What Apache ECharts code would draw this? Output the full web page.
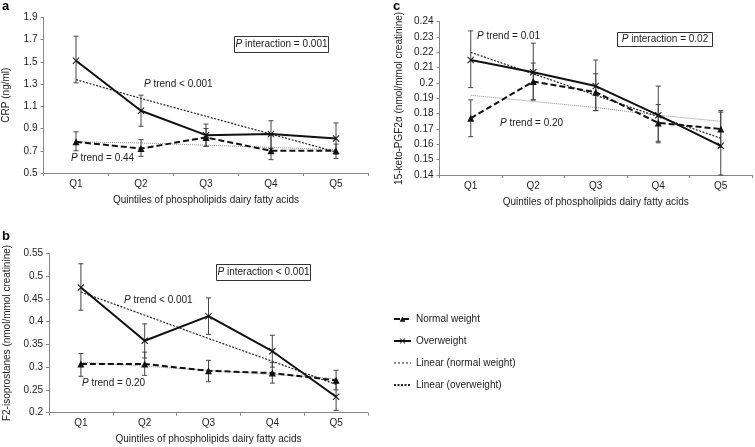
<!DOCTYPE html>
<html>
<head>
<meta charset="utf-8">
<script src="https://cdn.jsdelivr.net/npm/echarts@6/dist/echarts.min.js"></script>
<style>html,body{margin:0;padding:0;background:#fff}#c{width:755px;height:447px}</style>
</head>
<body>
<div id="c"></div>
<script>
const categories = ['Q1','Q2','Q3','Q4','Q5'];
const seriesNames = ['Normal weight','Overweight','Linear (normal weight)','Linear (overweight)'];

// Panel a: CRP
const crpNormal      = [0.78, 0.72, 0.82, 0.70, 0.70];
const crpNormalLow   = [0.70, 0.65, 0.74, 0.62, 0.63];
const crpNormalHigh  = [0.87, 0.80, 0.90, 0.84, 0.76];
const crpOver        = [1.51, 1.06, 0.84, 0.85, 0.81];
const crpOverLow     = [1.31, 0.92, 0.74, 0.72, 0.67];
const crpOverHigh    = [1.73, 1.20, 0.94, 0.97, 0.95];
const crpLinNormal   = [0.78, 0.77, 0.75, 0.73, 0.71];
const crpLinOver     = [1.34, 1.17, 1.01, 0.85, 0.69];

// Panel b: F2-isoprostanes
const f2Normal     = [0.307, 0.307, 0.292, 0.287, 0.271];
const f2NormalLow  = [0.280, 0.282, 0.268, 0.265, 0.250];
const f2NormalHigh = [0.330, 0.333, 0.315, 0.310, 0.293];
const f2Over       = [0.475, 0.358, 0.412, 0.335, 0.235];
const f2OverLow    = [0.425, 0.320, 0.372, 0.300, 0.205];
const f2OverHigh   = [0.527, 0.395, 0.452, 0.370, 0.265];
const f2LinNormal  = [0.311, 0.302, 0.293, 0.284, 0.275];
const f2LinOver    = [0.465, 0.414, 0.363, 0.313, 0.262];

// Panel c: 15-keto-PGF2alpha
const ketoNormal     = [0.177, 0.201, 0.194, 0.174, 0.170];
const ketoNormalLow  = [0.165, 0.189, 0.182, 0.162, 0.158];
const ketoNormalHigh = [0.189, 0.213, 0.206, 0.186, 0.182];
const ketoOver       = [0.215, 0.207, 0.198, 0.179, 0.159];
const ketoOverLow    = [0.197, 0.189, 0.182, 0.161, 0.140];
const ketoOverHigh   = [0.234, 0.226, 0.215, 0.198, 0.181];
const ketoLinNormal  = [0.192, 0.188, 0.184, 0.179, 0.175];
const ketoLinOver    = [0.220, 0.206, 0.192, 0.178, 0.164];

const FONT = '"Liberation Sans", Arial, sans-serif';
const TXT = '#222';
const X_SYMBOL = 'path://M0,1 L1,0 L5,4 L9,0 L10,1 L6,5 L10,9 L9,10 L5,6 L1,10 L0,9 L4,5 Z';

function errData(lo, hi){ return lo.map((v,i)=>[i, v, hi[i]]); }

function errorRender(params, api){
  const x = api.value(0);
  const p1 = api.coord([x, api.value(2)]);
  const p2 = api.coord([x, api.value(1)]);
  const w = 2.5;
  const st = {stroke:'#444', lineWidth:1};
  return {type:'group', children:[
    {type:'line', shape:{x1:p1[0], y1:p1[1], x2:p2[0], y2:p2[1]}, style:st},
    {type:'line', shape:{x1:p1[0]-w, y1:p1[1], x2:p1[0]+w, y2:p1[1]}, style:st},
    {type:'line', shape:{x1:p2[0]-w, y1:p2[1], x2:p2[0]+w, y2:p2[1]}, style:st}
  ]};
}

function fmt(v){ return String(+v.toFixed(3)); }

function makeX(idx){
  return {
    type:'category', gridIndex:idx, data:categories, boundaryGap:true,
    name:'Quintiles of phospholipids dairy fatty acids', nameLocation:'middle', nameGap:22,
    nameTextStyle:{fontFamily:FONT, fontSize:10, color:TXT},
    axisLine:{lineStyle:{color:'#888', width:1}},
    axisTick:{show:true, length:3, lineStyle:{color:'#888'}},
    axisLabel:{fontFamily:FONT, fontSize:10, color:TXT, margin:6},
    splitLine:{show:false}
  };
}
function makeY(idx, min, max, interval, name, gap){
  return {
    type:'value', gridIndex:idx, min:min, max:max, interval:interval,
    name:name, nameLocation:'middle', nameGap:gap, nameRotate:90,
    nameTextStyle:{fontFamily:FONT, fontSize:10, color:TXT},
    axisLine:{show:true, lineStyle:{color:'#888', width:1}},
    axisTick:{show:true, length:3, lineStyle:{color:'#888'}},
    axisLabel:{fontFamily:FONT, fontSize:10, color:TXT, margin:6, formatter:fmt},
    splitLine:{show:false}
  };
}

function panelSeries(idx, normal, nLo, nHi, over, oLo, oHi, linN, linO){
  return [
    {name:seriesNames[2], type:'line', xAxisIndex:idx, yAxisIndex:idx, data:linN, symbol:'none',
     lineStyle:{color:'#8a8a8a', width:1, type:'dotted'}, itemStyle:{color:'#8a8a8a'}, z:2, animation:false},
    {name:seriesNames[3], type:'line', xAxisIndex:idx, yAxisIndex:idx, data:linO, symbol:'none',
     lineStyle:{color:'#222', width:1.2, type:[2,1.5]}, itemStyle:{color:'#222'}, z:2, animation:false},
    {type:'custom', xAxisIndex:idx, yAxisIndex:idx, renderItem:errorRender, data:errData(nLo,nHi),
     encode:{x:0, y:[1,2]}, z:3, animation:false, silent:true},
    {type:'custom', xAxisIndex:idx, yAxisIndex:idx, renderItem:errorRender, data:errData(oLo,oHi),
     encode:{x:0, y:[1,2]}, z:3, animation:false, silent:true},
    {name:seriesNames[0], type:'line', xAxisIndex:idx, yAxisIndex:idx, data:normal,
     symbol:'triangle', symbolSize:7, lineStyle:{color:'#111', width:2, type:[6,3]},
     itemStyle:{color:'#111'}, z:4, animation:false},
    {name:seriesNames[1], type:'line', xAxisIndex:idx, yAxisIndex:idx, data:over,
     symbol:X_SYMBOL, symbolSize:7, lineStyle:{color:'#111', width:2},
     itemStyle:{color:'#111'}, z:5, animation:false}
  ];
}

function ptext(x, y, label){
  return {type:'text', left:x, top:y, style:{
    text:'{i|P}' + label, fill:TXT, font:'10px ' + FONT,
    rich:{i:{fontStyle:'italic', fontFamily:FONT, fontSize:10, fill:TXT}}
  }};
}
function pbox(x, y, w, h, label){
  return {type:'group', left:x, top:y, children:[
    {type:'rect', shape:{x:0, y:0, width:w, height:h}, style:{fill:'#fff', stroke:'#333', lineWidth:1}},
    {type:'text', x:w/2, y:h/2, style:{text:'{i|P}' + label, fill:TXT, font:'10px ' + FONT,
      align:'center', verticalAlign:'middle',
      rich:{i:{fontStyle:'italic', fontFamily:FONT, fontSize:10, fill:TXT}}}}
  ]};
}
function plabel(x, y, t){
  return {type:'text', left:x, top:y, style:{text:t, fill:'#000', font:'bold 13px ' + FONT}};
}

const chart = echarts.init(document.getElementById('c'), null, {renderer:'canvas'});
chart.setOption({
  animation:false,
  backgroundColor:'#fff',
  grid:[
    {left:43.5, right:386.5, top:17.3, bottom:274},
    {left:49, right:387, top:253.3, bottom:34.3},
    {left:439.5, right:3, top:21.7, bottom:272}
  ],
  xAxis:[makeX(0), makeX(1), makeX(2)],
  yAxis:[
    makeY(0, 0.5, 1.9, 0.2, 'CRP (ng/ml)', 32),
    makeY(1, 0.2, 0.55, 0.05, 'F2-isoprostanes (nmol/mmol creatinine)', 37),
    makeY(2, 0.14, 0.24, 0.01, '15-keto-PGF2\u03b1 (nmol/mmol creatinine)', 35)
  ],
  legend:{
    orient:'vertical', left:388, top:309, itemWidth:17, itemHeight:7, itemGap:12,
    data:[
      {name:seriesNames[0]},
      {name:seriesNames[1]},
      {name:seriesNames[2], itemStyle:{opacity:0}},
      {name:seriesNames[3], itemStyle:{opacity:0}}
    ],
    textStyle:{fontFamily:FONT, fontSize:10, color:TXT}, selectedMode:false
  },
  graphic:[
    plabel(2, 0, 'a'), plabel(2, 230, 'b'), plabel(393, 0, 'c'),
    pbox(234, 36, 94, 16, ' interaction = 0.001'),
    ptext(144, 79, ' trend < 0.001'),
    ptext(71, 153, ' trend = 0.44'),
    pbox(216, 264, 94, 16, ' interaction < 0.001'),
    ptext(124, 295, ' trend < 0.001'),
    ptext(82, 378, ' trend = 0.20'),
    pbox(617, 32, 95, 14, ' interaction = 0.02'),
    ptext(477, 31, ' trend = 0.01'),
    ptext(500, 118, ' trend = 0.20')
  ],
  series:[].concat(
    panelSeries(0, crpNormal, crpNormalLow, crpNormalHigh, crpOver, crpOverLow, crpOverHigh, crpLinNormal, crpLinOver),
    panelSeries(1, f2Normal, f2NormalLow, f2NormalHigh, f2Over, f2OverLow, f2OverHigh, f2LinNormal, f2LinOver),
    panelSeries(2, ketoNormal, ketoNormalLow, ketoNormalHigh, ketoOver, ketoOverLow, ketoOverHigh, ketoLinNormal, ketoLinOver)
  )
});
</script>
</body>
</html>
